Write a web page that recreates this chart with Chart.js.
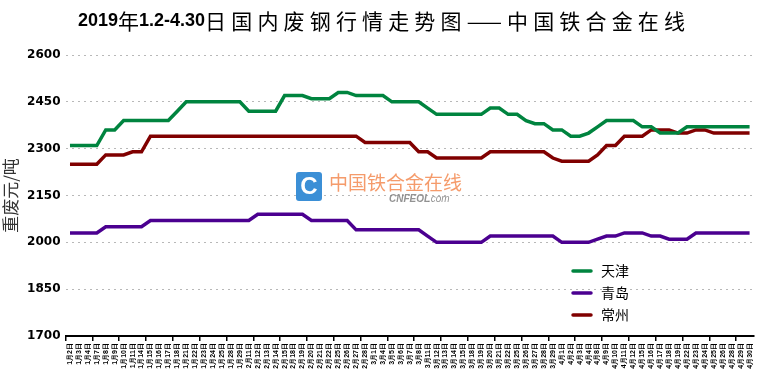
<!DOCTYPE html>
<html>
<head>
<meta charset="utf-8">
<script src="https://cdn.jsdelivr.net/npm/chart.js@4/dist/chart.umd.min.js"></script>
<style>
  html, body { margin: 0; padding: 0; background: #fff; }
  #wrap { width: 760px; height: 377px; position: relative; }
</style>
</head>
<body>
<div id="wrap"><canvas id="chart-steel"></canvas></div>
<script>
// ── data ──
const dates = [
  '1月2日','1月3日','1月4日','1月7日','1月8日','1月9日','1月10日','1月11日','1月14日','1月15日',
  '1月16日','1月17日','1月18日','1月21日','1月22日','1月23日','1月24日','1月25日','1月28日','1月29日',
  '2月11日','2月12日','2月13日','2月14日','2月15日','2月18日','2月19日','2月20日','2月21日','2月22日',
  '2月25日','2月26日','2月27日','2月28日','3月1日','3月4日','3月5日','3月6日','3月7日','3月8日',
  '3月11日','3月12日','3月13日','3月14日','3月15日','3月18日','3月19日','3月20日','3月21日','3月22日',
  '3月25日','3月26日','3月27日','3月28日','3月29日','4月1日','4月2日','4月3日','4月4日','4月8日',
  '4月9日','4月10日','4月11日','4月12日','4月15日','4月16日','4月17日','4月18日','4月19日','4月22日',
  '4月23日','4月24日','4月25日','4月26日','4月28日','4月29日','4月30日'
];
const tianjin = [
  2310,2310,2310,2310,2360,2360,2390,2390,2390,2390,
  2390,2390,2420,2450,2450,2450,2450,2450,2450,2450,
  2420,2420,2420,2420,2470,2470,2470,2460,2460,2460,
  2480,2480,2470,2470,2470,2470,2450,2450,2450,2450,
  2430,2410,2410,2410,2410,2410,2410,2430,2430,2410,
  2410,2390,2380,2380,2360,2360,2340,2340,2350,2370,
  2390,2390,2390,2390,2370,2370,2350,2350,2350,2370,
  2370,2370,2370,2370,2370,2370,2370
];
const qingdao = [
  2030,2030,2030,2030,2050,2050,2050,2050,2050,2070,
  2070,2070,2070,2070,2070,2070,2070,2070,2070,2070,
  2070,2090,2090,2090,2090,2090,2090,2070,2070,2070,
  2070,2070,2040,2040,2040,2040,2040,2040,2040,2040,
  2020,2000,2000,2000,2000,2000,2000,2020,2020,2020,
  2020,2020,2020,2020,2020,2000,2000,2000,2000,2010,
  2020,2020,2030,2030,2030,2020,2020,2010,2010,2010,
  2030,2030,2030,2030,2030,2030,2030
];
const changzhou = [
  2250,2250,2250,2250,2280,2280,2280,2290,2290,2340,
  2340,2340,2340,2340,2340,2340,2340,2340,2340,2340,
  2340,2340,2340,2340,2340,2340,2340,2340,2340,2340,
  2340,2340,2340,2320,2320,2320,2320,2320,2320,2290,
  2290,2270,2270,2270,2270,2270,2270,2290,2290,2290,
  2290,2290,2290,2290,2270,2260,2260,2260,2260,2280,
  2310,2310,2340,2340,2340,2360,2360,2360,2350,2350,
  2360,2360,2350,2350,2350,2350,2350
];
const seriesNames  = ['天津', '青岛', '常州'];
const seriesColors = ['#00843f', '#4b0090', '#800000'];
const yTicks = [1700, 1850, 2000, 2150, 2300, 2450, 2600];

// ── title: bold digits, regular CJK, stretched to the original width ──
const titlePlugin = {
  id: 'mixedTitle',
  afterDraw(chart) {
    const ctx = chart.ctx;
    const BOLD = 'bold 18px Arial, "Liberation Sans"';
    const CJK = '21px "Noto Sans CJK SC"';
    // tokens; CJK tokens get extra gap after them
    const tokens = [
      ['2019', BOLD, 0], ['年', CJK, 0], ['1.2-4.30', BOLD, 0],
      ...'日国内废钢行情走势图'.split('').map(c => [c, CJK, 1]),
      ['——', CJK, 1],
      ...'中国铁合金在线'.split('').map(c => [c, CJK, 1]),
    ];
    tokens[tokens.length - 1][2] = 0;
    const left = 78, right = 685;
    ctx.save();
    let natural = 0, gaps = 0;
    tokens.forEach(([t, f, g]) => { ctx.font = f; natural += ctx.measureText(t).width; gaps += g; });
    const extra = Math.max(0, (right - left - natural) / gaps);
    let x = left;
    ctx.fillStyle = '#000';
    ctx.textBaseline = 'middle';
    tokens.forEach(([t, f, g]) => {
      ctx.font = f;
      ctx.fillText(t, x, 21);
      x += ctx.measureText(t).width + g * extra;
    });
    ctx.restore();
  }
};

// ── watermark behind the lines ──
const watermarkPlugin = {
  id: 'watermark',
  beforeDatasetsDraw(chart) {
    const ctx = chart.ctx;
    ctx.save();
    ctx.fillStyle = '#3b8fd6';
    ctx.beginPath();
    ctx.roundRect(296, 172, 26, 29, 3);
    ctx.fill();
    ctx.fillStyle = '#fff';
    ctx.font = 'bold 24px Arial';
    ctx.textAlign = 'center';
    ctx.textBaseline = 'middle';
    ctx.fillText('C', 309, 187);
    ctx.fillStyle = 'rgba(242,130,70,0.8)';
    ctx.font = '19px "Noto Sans CJK SC"';
    ctx.textAlign = 'left';
    ctx.fillText('中国铁合金在线', 329, 183);
    ctx.fillStyle = 'rgba(120,120,120,0.8)';
    ctx.font = 'italic bold 10px Arial';
    ctx.fillText('CNFEOL', 389, 199);
    ctx.font = 'italic 10px Arial';
    ctx.fillText('.com', 428, 199);
    ctx.restore();
  }
};

// ── legend inside the plot ──
const legendPlugin = {
  id: 'innerLegend',
  afterDatasetsDraw(chart) {
    const ctx = chart.ctx;
    ctx.save();
    seriesNames.forEach((name, i) => {
      const y = 271 + i * 22;
      ctx.strokeStyle = seriesColors[i];
      ctx.lineWidth = 3.5;
      ctx.lineCap = 'round';
      ctx.beginPath();
      ctx.moveTo(573, y);
      ctx.lineTo(591, y);
      ctx.stroke();
      ctx.fillStyle = '#000';
      ctx.font = '14px "Noto Sans CJK SC"';
      ctx.textBaseline = 'middle';
      ctx.fillText(name, 601, y);
    });
    ctx.restore();
  }
};

new Chart(document.getElementById('chart-steel'), {
  type: 'line',
  data: {
    labels: dates,
    datasets: [tianjin, qingdao, changzhou].map((d, i) => ({
      label: seriesNames[i],
      data: d,
      borderColor: seriesColors[i],
      backgroundColor: seriesColors[i],
      borderWidth: 3.5,
      pointRadius: 0,
      tension: 0,
      fill: false,
    }))
  },
  options: {
    responsive: true, maintainAspectRatio: false, animation: false,
    layout: { padding: { top: 55, right: 4, left: 0, bottom: 0 } },
    plugins: { legend: { display: false }, title: { display: false }, tooltip: { enabled: false } },
    scales: {
      x: {
        offset: true,
        grid: {
          offset: true, drawOnChartArea: false, drawTicks: true, tickLength: 5,
          color: c => (c.index % 3 === 0 ? '#000' : 'rgba(0,0,0,0)'), lineWidth: 1.5
        },
        border: { display: true, color: '#000', width: 2 },
        ticks: {
          autoSkip: false, maxRotation: 90, minRotation: 90, padding: 2,
          font: { family: 'Arial', size: 7, weight: 'bold' }, color: '#000'
        },
        afterFit: s => { s.height = 41; }
      },
      y: {
        min: 1700, max: 2600,
        afterBuildTicks: s => { s.ticks = yTicks.map(v => ({ value: v })); },
        grid: { color: '#b8b8b8', lineWidth: 1, drawTicks: false },
        border: { display: false, dash: [2, 4] },
        ticks: {
          padding: 5, color: '#000',
          font: { family: '"DejaVu Sans"', size: 12, weight: 'bold' },
          callback: v => String(v)
        },
        title: {
          display: true, text: '重废元/吨', color: '#333', padding: 0,
          font: { family: '"Noto Sans CJK SC"', size: 17 }
        },
        afterFit: s => { s.width = 65.5; }
      }
    }
  },
  plugins: [titlePlugin, watermarkPlugin, legendPlugin]
});
</script>
</body>
</html>
